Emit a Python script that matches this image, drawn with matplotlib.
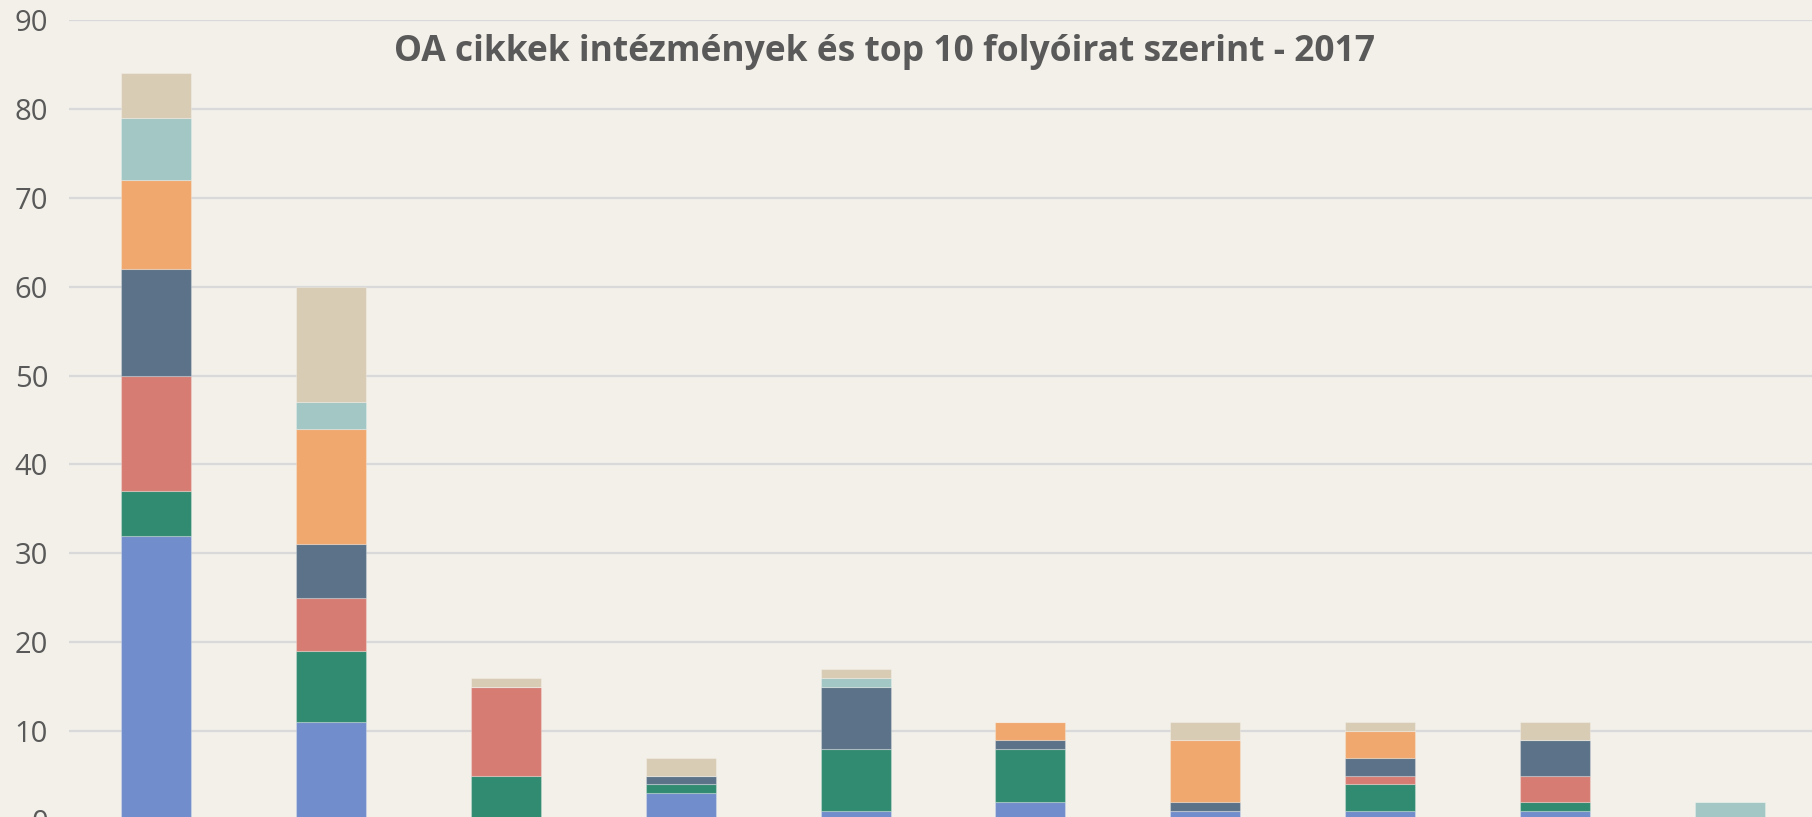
import matplotlib
matplotlib.use("Agg")
import matplotlib.pyplot as plt
import numpy as np

# ---- data ----
categories = [f"Intézmény {i}" for i in range(1, 11)]
series_names = ["Folyóirat A", "Folyóirat B", "Folyóirat C", "Folyóirat D",
                "Folyóirat E", "Folyóirat F", "Folyóirat G"]
s_blue   = [32, 11, 0, 3, 1, 2, 1, 1, 1, 0]
s_green  = [5, 8, 5, 1, 7, 6, 0, 3, 1, 0]
s_red    = [13, 6, 10, 0, 0, 0, 0, 1, 3, 0]
s_slate  = [12, 6, 0, 1, 7, 1, 1, 2, 4, 0]
s_orange = [10, 13, 0, 0, 0, 2, 7, 3, 0, 0]
s_teal   = [7, 3, 0, 0, 1, 0, 0, 0, 0, 2]
s_beige  = [5, 13, 1, 2, 1, 0, 2, 1, 2, 0]
yticks = [0, 10, 20, 30, 40, 50, 60, 70, 80, 90]
title = "OA cikkek intézmények és top 10 folyóirat szerint - 2017"

series = [s_blue, s_green, s_red, s_slate, s_orange, s_teal, s_beige]
colors = ["#718DCB", "#318B70", "#D77C73", "#5B7288", "#F0A86F", "#A2C7C4", "#D9CCB5"]
bg = "#F2F0E9"

W, H = 1812, 817
fig = plt.figure(figsize=(W / 100, H / 100), dpi=100, facecolor=bg)
left, right = 69 / W, 1817 / W
top_px, bot_px = 20, 820
ax = fig.add_axes([left, 1 - bot_px / H, right - left, (bot_px - top_px) / H])
ax.set_facecolor(bg)

x = np.arange(len(categories))
bottom = np.zeros(len(categories))
for name, vals, c in zip(series_names, series, colors):
    v = np.array(vals, dtype=float)
    ax.bar(x, v, width=0.4, bottom=bottom, color=c, label=name,
           edgecolor=(1, 1, 1, 0.25), linewidth=0.8, zorder=3)
    bottom += v

ax.set_xlim(-0.5, len(categories) - 0.5)
ax.set_ylim(0, 90)
ax.set_yticks(yticks)
ax.set_yticklabels([str(t) for t in yticks])
# category labels lie below the visible (cropped) area of the chart
ax.set_xticks(x)
ax.set_xticklabels([""] * len(categories))
ax.grid(axis="y", color="#D9D9D9", linewidth=1.6, zorder=0)
ax.set_axisbelow(True)
for s in ax.spines.values():
    s.set_visible(False)
ax.tick_params(axis="y", length=0, pad=15, labelsize=21, labelcolor="#595959")
ax.tick_params(axis="x", length=0)
for lab in ax.get_yticklabels():
    lab.set_fontfamily("Open Sans")

fig.text(885 / W, 1 - 52 / H, title, ha="center", va="center",
         fontsize=25.5, fontweight="bold", color="#595959", family="Open Sans")

fig.savefig("out.png", dpi=100, facecolor=bg)
